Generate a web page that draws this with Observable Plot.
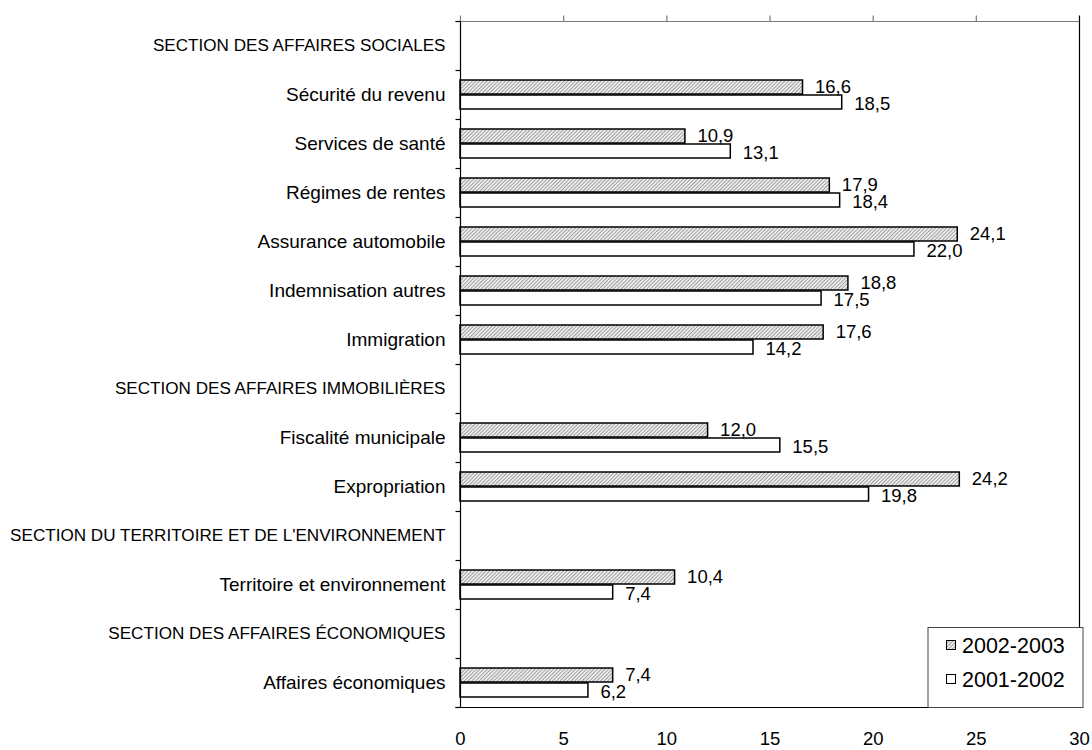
<!DOCTYPE html>
<html><head><meta charset="utf-8">
<script src="https://cdn.jsdelivr.net/npm/d3@7"></script>
<script src="https://cdn.jsdelivr.net/npm/@observablehq/plot@0.6"></script>
<style>
body{margin:0;background:#fff;}
#chart svg{font-family:"Liberation Sans",Arial,sans-serif;}
</style>
</head><body><div id="chart"></div>
<script>
const categories = [
  "SECTION DES AFFAIRES SOCIALES",
  "Sécurité du revenu",
  "Services de santé",
  "Régimes de rentes",
  "Assurance automobile",
  "Indemnisation autres",
  "Immigration",
  "SECTION DES AFFAIRES IMMOBILIÈRES",
  "Fiscalité municipale",
  "Expropriation",
  "SECTION DU TERRITOIRE ET DE L'ENVIRONNEMENT",
  "Territoire et environnement",
  "SECTION DES AFFAIRES ÉCONOMIQUES",
  "Affaires économiques"
];
const series = ["2002-2003", "2001-2002"];
const values2002_2003 = [null, 16.6, 10.9, 17.9, 24.1, 18.8, 17.6, null, 12.0, 24.2, null, 10.4, null, 7.4];
const values2001_2002 = [null, 18.5, 13.1, 18.4, 22.0, 17.5, 14.2, null, 15.5, 19.8, null, 7.4, null, 6.2];
const xTicks = [0, 5, 10, 15, 20, 25, 30];

const sectionCats = categories.filter((c, i) => values2002_2003[i] == null);
const itemCats = categories.filter((c, i) => values2002_2003[i] != null);
const rows = categories.map((c, i) => ({cat: c, a: values2002_2003[i], b: values2001_2002[i]}))
  .filter(d => d.a != null);
const fmt = v => d3.format(".1f")(v).replace(".", ",");

function frameAndLegend(index, scales) {
  const x = scales.x, y = scales.y;
  const x0 = x(xTicks[0]) + 0.5, x1 = x(xTicks[xTicks.length - 1]) + 0.5;
  const step = y(categories[1]) - y(categories[0]);
  const top = y(categories[0]) + 0.5;
  const bottom = y(categories[categories.length - 1]) + step + 0.5;
  const g = d3.create("svg:g");
  const line = (xa, ya, xb, yb, c) => g.append("line")
    .attr("x1", xa).attr("y1", ya).attr("x2", xb).attr("y2", yb)
    .attr("stroke", c).attr("stroke-width", 1.2);
  line(x0 - 5, top, x1, top, "#7a7a7a");
  xTicks.slice(0, -1).forEach(t => line(x(t) + 0.5, top - 6, x(t) + 0.5, top, "#7a7a7a"));
  for (let k = 0; k <= categories.length; k++) {
    const yy = top + k * step;
    line(x0 - 5, yy, x0, yy, "#000");
  }
  line(x0 - 5, bottom, x1, bottom, "#000");
  line(x0, top, x0, bottom, "#000");
  line(x1, top - 6, x1, bottom, "#000");
  // legend
  const lw = 155, lh = 80;
  const lx = x1 + 3.5 - lw, ly = bottom - lh;
  const lg = g.append("g");
  lg.append("rect").attr("x", lx).attr("y", ly).attr("width", lw).attr("height", lh)
    .attr("fill", "#fff").attr("stroke", "#444").attr("stroke-width", 1);
  const fills = ["url(#hatch)", "#fff"];
  series.forEach((s, i) => {
    const cy = ly + 17.5 + i * 34;
    lg.append("rect").attr("x", lx + 18.5).attr("y", cy - 4.5).attr("width", 9).attr("height", 9)
      .attr("fill", fills[i]).attr("stroke", "#000").attr("stroke-width", 1);
    lg.append("text").attr("x", lx + 34).attr("y", cy).attr("dy", "0.35em")
      .attr("text-anchor", "start").attr("font-size", 21.5).attr("fill", "#000").text(s);
  });
  return g.node();
}

const chart = Plot.plot({
  width: 1092,
  height: 750,
  marginLeft: 460,
  marginRight: 13,
  marginTop: 15,
  marginBottom: 37,
  style: {fontFamily: "Liberation Sans, Arial, sans-serif", fontSize: "18.5px", color: "#000", background: "#fff"},
  x: {domain: [0, 30]},
  y: {domain: categories, padding: 0},
  marks: [
    Plot.barX(rows, {x: "a", y: "cat", fill: "url(#hatch)", stroke: "#000", strokeWidth: 1.5, insetTop: 10, insetBottom: 25}),
    Plot.barX(rows, {x: "b", y: "cat", fill: "#fff", stroke: "#000", strokeWidth: 1.5, insetTop: 25, insetBottom: 10}),
    Plot.text(rows, {x: "a", y: "cat", text: d => fmt(d.a), dx: 12, dy: -8, textAnchor: "start"}),
    Plot.text(rows, {x: "b", y: "cat", text: d => fmt(d.b), dx: 12, dy: 9.5, textAnchor: "start"}),
    Plot.axisY({ticks: sectionCats, tickSize: 0, tickPadding: 15, label: null, fontSize: 17.1}),
    Plot.axisY({ticks: itemCats, tickSize: 0, tickPadding: 15, label: null, fontSize: 19}),
    Plot.axisX({anchor: "bottom", ticks: xTicks, tickSize: 0, tickPadding: 18, label: null}),
    frameAndLegend
  ]
});

const svg = d3.select(chart);
const defs = svg.insert("defs", ":first-child");
const pat = defs.append("pattern").attr("id", "hatch").attr("patternUnits", "userSpaceOnUse")
  .attr("width", 2.6).attr("height", 2.6).attr("patternTransform", "rotate(45)");
pat.append("rect").attr("width", 2.6).attr("height", 2.6).attr("fill", "#ececec");
pat.append("line").attr("x1", 1.3).attr("y1", 0).attr("x2", 1.3).attr("y2", 2.6)
  .attr("stroke", "#9a9a9a").attr("stroke-width", 0.9);

document.getElementById("chart").appendChild(chart);
</script>
</body></html>
